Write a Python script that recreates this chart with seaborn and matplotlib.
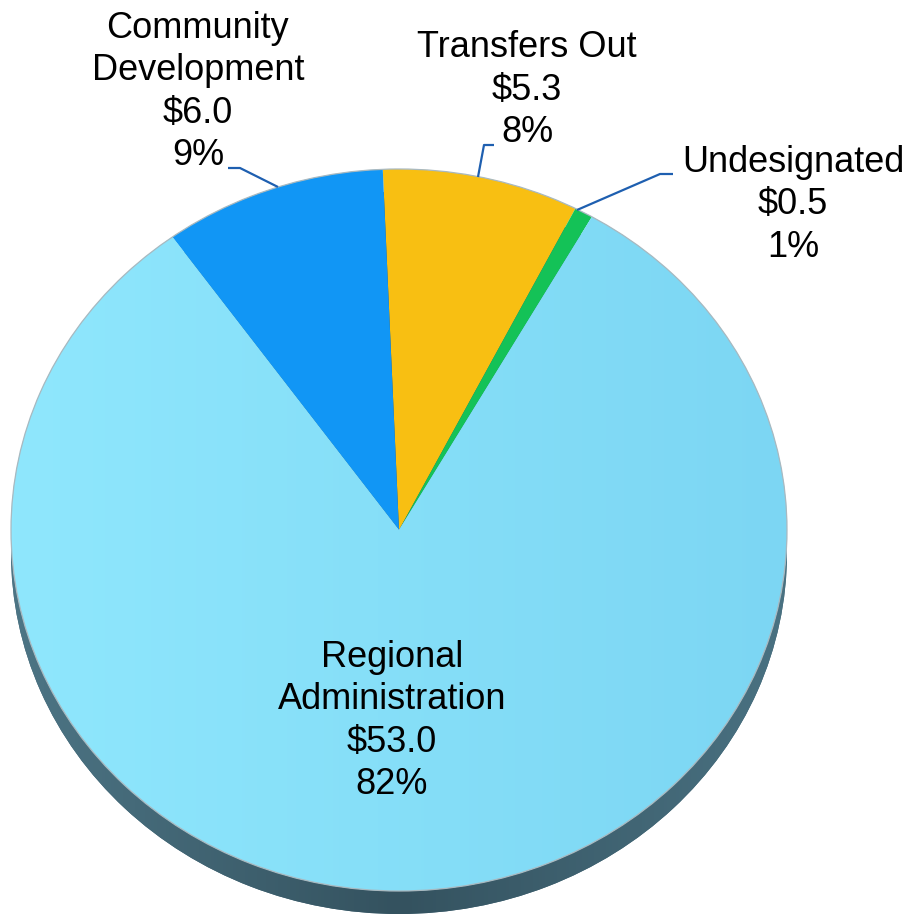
import numpy as np
import matplotlib
matplotlib.use("Agg")
import matplotlib.pyplot as plt
from matplotlib.colors import LinearSegmentedColormap
import seaborn as sns

# Budget split (millions of dollars), clockwise from the top
categories = ["Transfers Out", "Undesignated", "Regional\nAdministration", "Community\nDevelopment"]
amounts = [5.3, 0.5, 53.0, 6.0]
slice_colors = ["#f8bf12", "#14c257", "#86e0f9", "#1196f5"]

total = sum(amounts)
labels = [f"{c}\n${a:.1f}\n{round(a / total * 100):.0f}%" for c, a in zip(categories, amounts)]

sns.set_theme(style="white")
plt.rcParams["font.family"] = ["Liberation Sans", "DejaVu Sans"]

W, H = 909, 917
fig = plt.figure(figsize=(W / 100, H / 100), dpi=100)
ax = fig.add_axes([0, 0, 1, 1])

# pixel layout of the tilted disc
CX, CY, RX, RY = 399, 530, 388, 361
DEPTH = 23


def px(x, y):
    return (x - CX) / RX, (CY - y) / RY


# dark side of the disc, peeking out below the top face
rim, _ = ax.pie([1], colors=["#3d6172"], radius=1, center=(0, -DEPTH / RY),
                wedgeprops=dict(linewidth=0))
rim_grad = LinearSegmentedColormap.from_list("rim", ["#4d7585", "#34525f", "#4a7282"])
im_rim = ax.imshow(np.linspace(0, 1, 256).reshape(1, -1), extent=[-1, 1, -1.2, 1],
                   cmap=rim_grad, aspect="auto", zorder=rim[0].get_zorder() + 0.05)
im_rim.set_clip_path(rim[0])

wedges, _ = ax.pie(amounts, colors=slice_colors, startangle=92.4, counterclock=False,
                   radius=1, center=(0, 0), wedgeprops=dict(linewidth=0))
for w in wedges:
    w.set_zorder(2)

# soft left-to-right shading on the large slice
face_grad = LinearSegmentedColormap.from_list("face", ["#8fe7fd", "#7cd6f3"])
im = ax.imshow(np.linspace(0, 1, 256).reshape(1, -1), extent=[-1, 1, -1, 1],
               cmap=face_grad, aspect="auto", zorder=2.1)
im.set_clip_path(wedges[2])

# thin outline around the top face
outline, _ = ax.pie([1], radius=1, center=(0, 0),
                    wedgeprops=dict(fill=False, edgecolor="#a9b9c0", linewidth=0.9))
outline[0].set_zorder(2.2)

# leader lines
line_kw = dict(color="#1e5fb0", linewidth=1.6, zorder=3, solid_capstyle="butt")
for pts in ([(228, 168), (240, 168), (278, 187)],
            [(494, 145), (484, 145), (478, 177)],
            [(673, 174), (660, 174), (577, 210)]):
    xs, ys = zip(*[px(*p) for p in pts])
    ax.plot(xs, ys, **line_kw)

# slice labels
label_pos = {0: (527, 90), 1: (793, 205), 2: (392, 721), 3: (198, 92)}
for i, txt in enumerate(labels):
    ax.text(*px(*label_pos[i]), txt, ha="center", va="center", fontsize=26,
            linespacing=1.28, color="black", zorder=4)

ax.set_aspect("auto")
ax.set_xlim(px(0, 0)[0], px(W, 0)[0])
ax.set_ylim(px(0, H)[1], px(0, 0)[1])
ax.axis("off")

fig.savefig("out.png", dpi=100, facecolor="white")
